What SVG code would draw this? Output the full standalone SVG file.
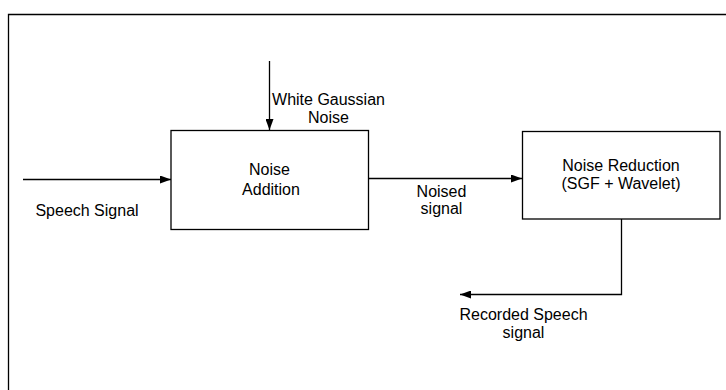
<svg xmlns="http://www.w3.org/2000/svg" width="726" height="390" viewBox="0 0 726 390">
  <defs>
    <marker id="ah" viewBox="0 0 11 8" refX="11" refY="4" markerWidth="11" markerHeight="8" markerUnits="userSpaceOnUse" orient="auto">
      <path d="M0,0 L11,4 L0,8 Z" fill="#000"/>
    </marker>
  </defs>
  <style>
    .box { fill: #fff; stroke: #000; stroke-width: 1.3; }
    .ln { fill: none; stroke: #000; stroke-width: 1.3; }
    .t { font-family: "Liberation Sans", Arial, sans-serif; font-size: 16px; fill: #000; text-anchor: middle; }
  </style>
  <rect x="0" y="0" width="726" height="390" fill="#fff"/>
  <path class="ln" d="M8.5,390 V14.5 H726"/>
  <g id="connectors">
    <line class="ln" x1="23" y1="179.5" x2="171" y2="179.5" marker-end="url(#ah)"/>
    <line class="ln" x1="269.5" y1="61" x2="269.5" y2="130" marker-end="url(#ah)"/>
    <line class="ln" x1="368.5" y1="178.5" x2="522" y2="178.5" marker-end="url(#ah)"/>
    <path class="ln" d="M621.5,219 V294.5 H460" marker-end="url(#ah)"/>
  </g>
  <g id="noise-addition">
    <rect class="box" x="171" y="130.5" width="197.5" height="99"/>
    <text class="t" x="269.5" y="175">Noise</text>
    <text class="t" x="271" y="195">Addition</text>
  </g>
  <g id="noise-reduction">
    <rect class="box" x="522.5" y="131.5" width="197.5" height="87.5"/>
    <text class="t" x="621" y="171">Noise Reduction</text>
    <text class="t" x="621" y="189">(SGF + Wavelet)</text>
  </g>
  <g id="labels">
    <text class="t" x="328.5" y="105">White Gaussian</text>
    <text class="t" x="328.5" y="123">Noise</text>
    <text class="t" x="87" y="216">Speech Signal</text>
    <text class="t" x="441.5" y="197">Noised</text>
    <text class="t" x="441.5" y="214">signal</text>
    <text class="t" x="523.5" y="320">Recorded Speech</text>
    <text class="t" x="523.5" y="338">signal</text>
  </g>
</svg>
